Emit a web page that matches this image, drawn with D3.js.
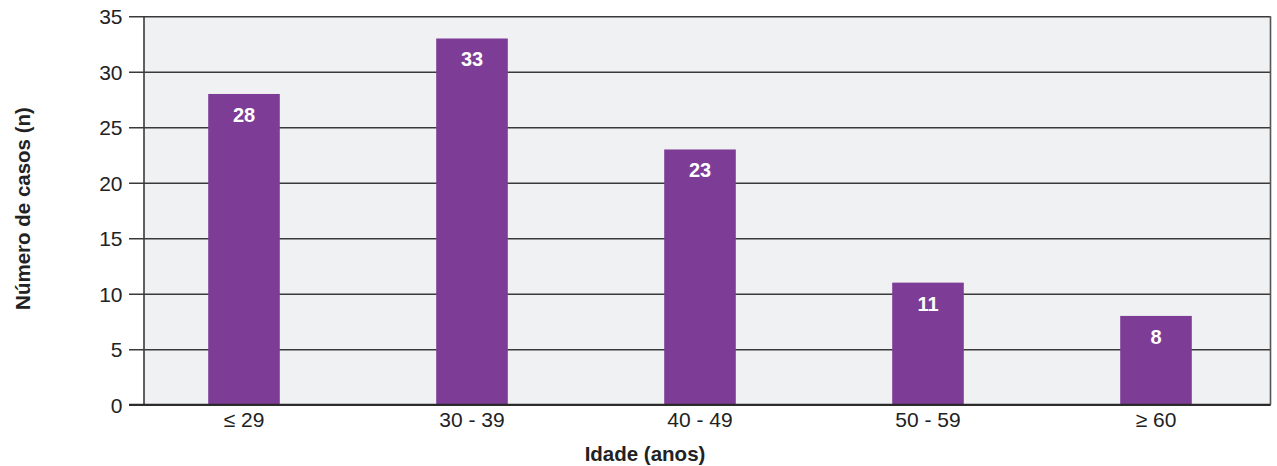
<!DOCTYPE html>
<html><head><meta charset="utf-8">
<script src="https://cdn.jsdelivr.net/npm/d3@7"></script>
<style>
html,body{margin:0;padding:0;background:#fff;}
text{font-family:"Liberation Sans",Arial,sans-serif;}
</style></head>
<body>
<svg id="chart" width="1277" height="466"></svg>
<script>
const categories = ["≤ 29", "30 - 39", "40 - 49", "50 - 59", "≥ 60"];
const values = [28, 33, 23, 11, 8];
const yTicks = [0, 5, 10, 15, 20, 25, 30, 35];
const xTitle = "Idade (anos)";
const yTitle = "Número de casos (n)";

const svg = d3.select("#chart");
const plot = {left: 144, right: 1270.5, top: 16.3, bottom: 404.7};

const x = d3.scaleBand().domain(categories).range([130, 1270]).paddingInner(0.686).paddingOuter(0.343);
const y = d3.scaleLinear().domain([0, 35]).range([plot.bottom, plot.top]);

// background
svg.append("rect").attr("x", plot.left).attr("y", plot.top)
  .attr("width", plot.right - plot.left).attr("height", plot.bottom - plot.top)
  .attr("fill", "#f0f1f3");

// gridlines + ticks via axis
const yAxis = d3.axisLeft(y).tickValues(yTicks).tickSize(plot.right - 129).tickSizeOuter(0);
const gy = svg.append("g").attr("transform", `translate(${plot.right},0)`).call(yAxis);
gy.select(".domain").remove();
gy.selectAll(".tick line").attr("stroke", "#3a3a3a").attr("stroke-width", 1.4);
gy.selectAll(".tick text").attr("x", -(plot.right - 122.5)).attr("dx", 0).attr("dy", "0.36em")
  .attr("font-size", 21).attr("fill", "#222").attr("text-anchor", "end");

// bars
svg.append("g").selectAll("rect").data(values).join("rect")
  .attr("x", (d, i) => x(categories[i]))
  .attr("width", x.bandwidth())
  .attr("y", d => y(d))
  .attr("height", d => y(0) - y(d))
  .attr("fill", "#7d3c96");

// value labels
svg.append("g").selectAll("text").data(values).join("text")
  .attr("x", (d, i) => x(categories[i]) + x.bandwidth() / 2)
  .attr("y", d => y(d) + 28)
  .attr("text-anchor", "middle")
  .attr("font-size", 20).attr("font-weight", "bold").attr("fill", "#fff")
  .text(d => d);

// axis lines
svg.append("line").attr("x1", plot.left).attr("x2", plot.left).attr("y1", plot.top).attr("y2", plot.bottom)
  .attr("stroke", "#3a3a3a").attr("stroke-width", 1.6);
svg.append("line").attr("x1", plot.right).attr("x2", plot.right).attr("y1", plot.top).attr("y2", plot.bottom)
  .attr("stroke", "#555").attr("stroke-width", 1.6);
svg.append("line").attr("x1", 129).attr("x2", plot.right).attr("y1", plot.bottom).attr("y2", plot.bottom)
  .attr("stroke", "#2a2a2a").attr("stroke-width", 2);

// x axis labels
const xAxis = d3.axisBottom(x).tickSize(0);
const gx = svg.append("g").attr("transform", `translate(0,${plot.bottom})`).call(xAxis);
gx.select(".domain").remove();
gx.selectAll(".tick text").attr("y", 22).attr("dy", 0)
  .attr("font-size", 21).attr("fill", "#222");

// titles
svg.append("text").attr("x", 645).attr("y", 461).attr("text-anchor", "middle")
  .attr("font-size", 20.5).attr("font-weight", "bold").attr("fill", "#222").text(xTitle);
svg.append("text").attr("transform", "translate(29.5,208.5) rotate(-90)").attr("text-anchor", "middle")
  .attr("font-size", 20.5).attr("font-weight", "bold").attr("fill", "#222").text(yTitle);
</script>
</body></html>
